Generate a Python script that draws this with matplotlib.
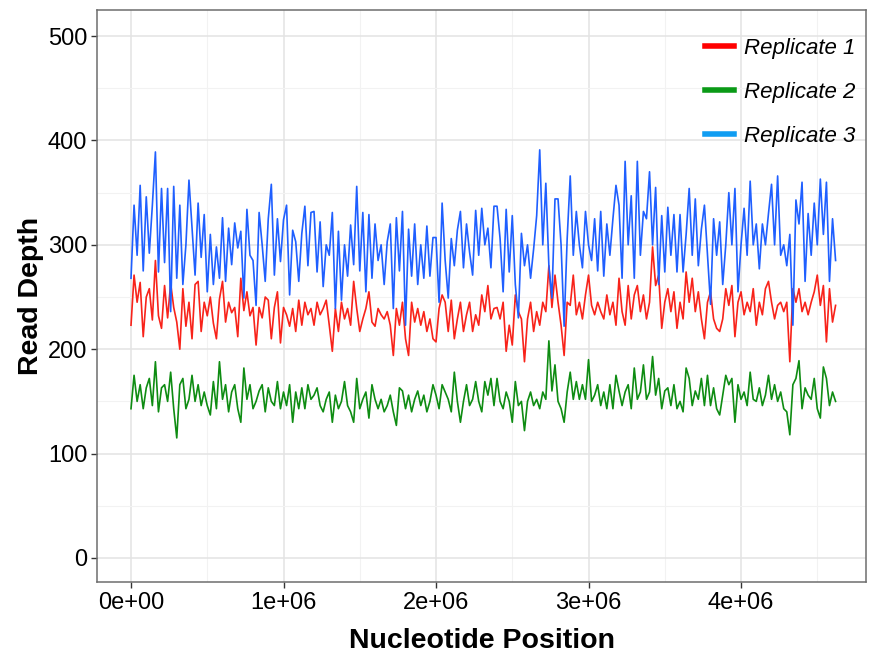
import numpy as np
import matplotlib.pyplot as plt
from matplotlib.ticker import MultipleLocator, FixedLocator

plt.rcParams['font.family'] = ['Liberation Sans', 'DejaVu Sans']

# read depth every 20 kb
rep1 = [223, 271, 245, 264, 212, 250, 258, 228, 285, 232, 220, 261, 230, 263, 240, 226, 200, 258, 222, 245,
        210, 262, 265, 217, 245, 232, 250, 225, 210, 248, 265, 226, 245, 235, 240, 212, 268, 237, 255, 232,
        240, 204, 240, 230, 250, 247, 210, 240, 255, 206, 240, 233, 222, 239, 217, 247, 223, 245, 233, 239,
        223, 245, 233, 239, 247, 223, 198, 239, 217, 245, 229, 239, 223, 265, 239, 217, 229, 239, 255, 226,
        222, 239, 233, 229, 236, 223, 194, 239, 223, 245, 210, 194, 245, 226, 239, 223, 236, 217, 229, 210,
        207, 239, 252, 245, 217, 247, 210, 229, 245, 217, 233, 245, 217, 233, 223, 252, 236, 261, 229, 239,
        240, 229, 245, 198, 223, 204, 252, 236, 229, 188, 229, 245, 217, 236, 223, 245, 236, 280, 240, 271,
        245, 223, 194, 245, 242, 271, 233, 245, 229, 252, 271, 242, 233, 245, 236, 229, 252, 233, 245, 223,
        268, 236, 223, 261, 229, 252, 261, 236, 252, 229, 245, 298, 261, 271, 220, 245, 258, 236, 255, 220,
        245, 229, 274, 245, 268, 236, 255, 229, 210, 245, 255, 229, 220, 217, 229, 258, 242, 261, 212, 245,
        255, 233, 245, 236, 258, 223, 245, 233, 258, 265, 245, 229, 242, 245, 236, 245, 188, 258, 245, 258,
        236, 245, 233, 245, 255, 271, 242, 261, 207, 258, 226, 242]

rep2 = [143, 175, 150, 166, 143, 163, 172, 146, 188, 140, 163, 166, 150, 178, 143, 115, 166, 172, 143, 152,
        175, 150, 166, 146, 159, 146, 137, 169, 143, 188, 152, 166, 140, 159, 166, 143, 130, 182, 152, 166,
        143, 150, 160, 166, 140, 163, 150, 146, 169, 143, 159, 146, 166, 130, 159, 143, 163, 143, 166, 152,
        156, 163, 146, 140, 152, 159, 130, 156, 143, 150, 169, 146, 140, 130, 172, 143, 152, 159, 134, 166,
        152, 143, 152, 140, 146, 156, 140, 127, 163, 160, 143, 156, 140, 152, 160, 146, 156, 140, 150, 166,
        156, 143, 166, 159, 152, 140, 178, 150, 130, 150, 166, 146, 152, 169, 150, 140, 169, 156, 172, 146,
        172, 150, 143, 159, 150, 130, 169, 146, 150, 122, 150, 159, 146, 152, 143, 159, 152, 208, 160, 185,
        150, 143, 130, 159, 178, 152, 169, 152, 166, 152, 190, 150, 156, 166, 146, 159, 143, 166, 143, 175,
        160, 146, 159, 166, 143, 182, 152, 159, 185, 152, 159, 193, 156, 172, 143, 160, 163, 146, 166, 143,
        150, 140, 182, 172, 146, 160, 152, 172, 146, 175, 146, 163, 143, 137, 156, 175, 166, 172, 130, 166,
        152, 159, 146, 178, 152, 150, 163, 146, 156, 175, 152, 166, 150, 159, 143, 140, 118, 166, 172, 189,
        143, 163, 156, 152, 172, 143, 134, 183, 172, 146, 159, 150]

rep3 = [268, 338, 290, 357, 275, 346, 292, 338, 389, 274, 354, 283, 354, 236, 356, 268, 338, 262, 300, 362,
        316, 271, 340, 288, 329, 255, 310, 262, 298, 268, 326, 265, 316, 281, 321, 297, 313, 249, 334, 290,
        285, 242, 331, 300, 265, 325, 358, 271, 325, 284, 324, 338, 252, 314, 303, 265, 311, 337, 280, 331,
        332, 274, 322, 260, 300, 290, 331, 239, 313, 247, 300, 270, 319, 281, 356, 275, 331, 255, 329, 268,
        320, 285, 300, 262, 303, 320, 239, 326, 275, 332, 223, 315, 270, 320, 262, 300, 268, 318, 270, 307,
        307, 245, 340, 285, 249, 306, 280, 314, 332, 278, 320, 293, 271, 333, 290, 335, 300, 316, 278, 337,
        337, 306, 255, 334, 274, 328, 262, 230, 311, 280, 300, 268, 296, 328, 391, 300, 359, 280, 249, 344,
        344, 300, 222, 306, 366, 290, 332, 300, 278, 332, 300, 285, 325, 275, 332, 270, 320, 290, 325, 357,
        338, 268, 380, 300, 347, 268, 380, 290, 332, 325, 370, 300, 355, 262, 328, 274, 336, 290, 329, 274,
        329, 274, 310, 354, 290, 344, 280, 315, 338, 290, 243, 325, 290, 322, 262, 300, 350, 300, 354, 255,
        300, 335, 290, 361, 300, 320, 277, 320, 300, 330, 358, 300, 366, 290, 300, 280, 310, 223, 343, 320,
        360, 265, 330, 290, 340, 300, 363, 310, 360, 265, 325, 285]

pos = np.arange(len(rep1)) * 20000

fig = plt.figure(figsize=(8.7, 6.57), dpi=100)
ax = fig.add_axes([0.1115, 0.1142, 0.884, 0.8706])

ax.plot(pos, rep1, color='#F8231A', lw=1.2)
ax.plot(pos, rep2, color='#0E8C12', lw=1.2)
ax.plot(pos, rep3, color='#1F5FFF', lw=1.2)

ax.set_xlim(-0.223e6, 4.82e6)
ax.set_ylim(-23, 525)
ax.xaxis.set_major_locator(FixedLocator([0, 1e6, 2e6, 3e6, 4e6]))
ax.set_xticklabels(['0e+00', '1e+06', '2e+06', '3e+06', '4e+06'])
ax.xaxis.set_minor_locator(FixedLocator([0.5e6, 1.5e6, 2.5e6, 3.5e6, 4.5e6]))
ax.yaxis.set_major_locator(MultipleLocator(100))
ax.yaxis.set_minor_locator(FixedLocator([50, 150, 250, 350, 450]))

ax.grid(which='major', color='#E3E3E3', lw=1.1)
ax.grid(which='minor', color='#F2F2F2', lw=0.8)
ax.set_axisbelow(True)
ax.tick_params(which='minor', length=0)
ax.tick_params(which='major', length=4, width=1, color='#333333', labelsize=17, pad=3)
for s in ax.spines.values():
    s.set_color('#6E6E6E')
    s.set_linewidth(1.1)

ax.set_xlabel('Nucleotide Position', fontsize=20.5, fontweight='bold', labelpad=10)
ax.set_ylabel('Read Depth', fontsize=20.5, fontweight='bold', labelpad=3)

# legend drawn without frame
h1, = ax.plot([], [], color='#FF0000', lw=4)
h2, = ax.plot([], [], color='#0A9A17', lw=4)
h3, = ax.plot([], [], color='#109DF2', lw=4)
leg = ax.legend([h1, h2, h3], ['Replicate 1', 'Replicate 2', 'Replicate 3'],
                loc='upper right', bbox_to_anchor=(1.006, 0.979), frameon=False,
                prop={'style': 'italic', 'size': 16}, handlelength=1.3,
                handletextpad=0.45, labelspacing=1.05, borderaxespad=0.3)

fig.savefig('out.png', dpi=100)
